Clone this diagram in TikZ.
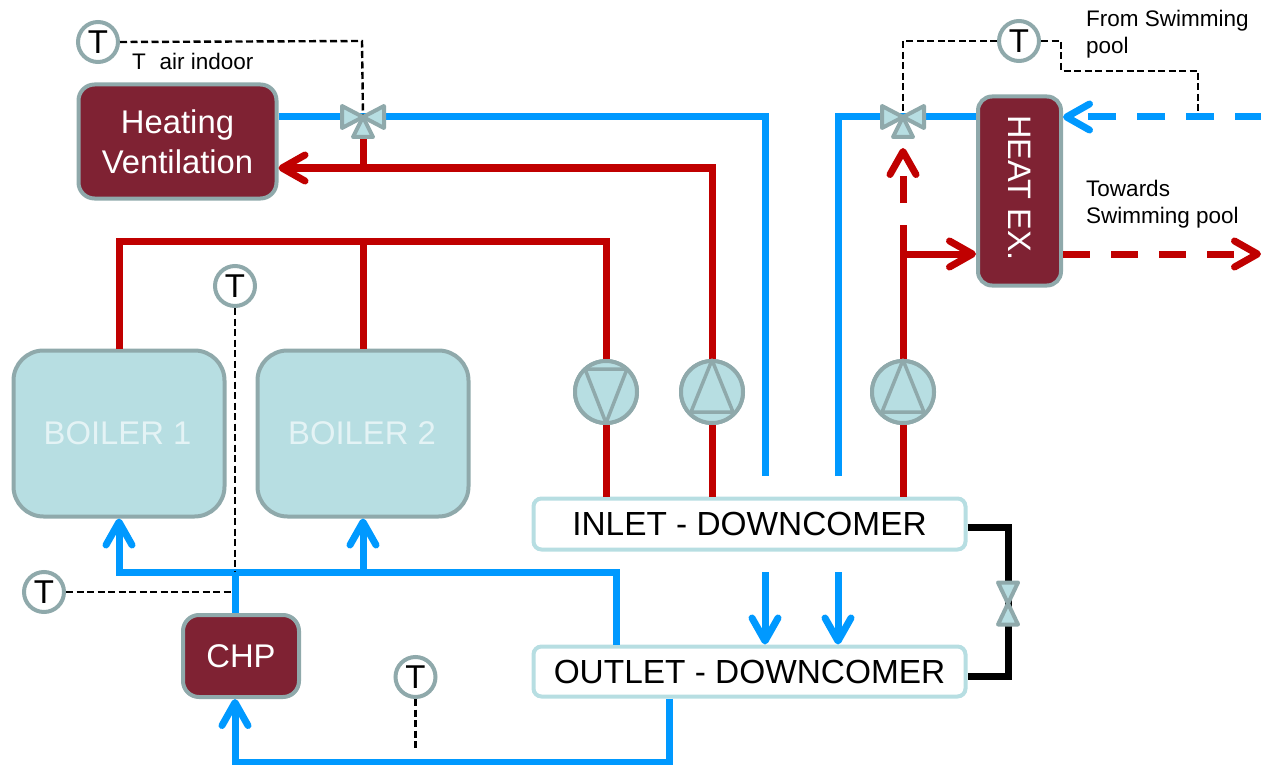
\documentclass[tikz,border=0pt]{standalone}
\usepackage{fontspec}
\setmainfont{Liberation Sans}
\usepackage{xcolor}
\usetikzlibrary{arrows.meta,calc,positioning}
\definecolor{pipeblue}{HTML}{0099FF}
\definecolor{pipered}{HTML}{C00000}
\definecolor{unitred}{HTML}{7F2233}
\definecolor{edgegrey}{HTML}{8FA9AB}
\definecolor{paleteal}{HTML}{B7DEE2}
\definecolor{boilertext}{HTML}{E4F3F5}

\begin{document}
\begin{tikzpicture}[
	  x=1pt,y=-1pt,
	  every node/.style={align=center,inner sep=0pt},
	  unit/.style={draw=edgegrey,line width=4pt,fill=unitred,rounded corners=16pt,text=white,font=\fontsize{32.8}{40}\selectfont},
	  boiler/.style={draw=edgegrey,line width=4pt,fill=paleteal,rounded corners=30pt,minimum width=211pt,minimum height=166pt,text=boilertext,font=\fontsize{32.8}{40}\selectfont},
	  downcomer/.style={draw=paleteal,line width=4pt,fill=white,rounded corners=8pt,minimum width=432pt,text=black,font=\fontsize{33.4}{40}\selectfont},
	  sensor/.style={circle,draw=edgegrey,line width=4pt,fill=white,minimum size=40pt,font=\fontsize{33}{36}\selectfont},
	  pump/.style={circle,draw=edgegrey,line width=4pt,fill=paleteal,minimum size=62pt},
	  note/.style={text=black,align=left,font=\fontsize{22.5}{27}\selectfont},
	  blueline/.style={draw=pipeblue,line width=7pt},
	  redline/.style={draw=pipered,line width=7pt},
	  blackline/.style={draw=black,line width=7pt},
	  signal/.style={draw=black,line width=2.4pt,dash pattern=on 7pt off 3.5pt},
	  to/.style={-{Straight Barb[length=23pt,width=26pt,round]}},
	  valveline/.style={draw=edgegrey,line width=4pt,fill=paleteal,line join=round},
	  threeway/.pic={
	    \draw[valveline] (0,0) -- (-21,-11) -- (-21,11) -- cycle;
	    \draw[valveline] (0,0) -- (21,-11) -- (21,11) -- cycle;
	    \draw[valveline] (0,0) -- (-10,20) -- (10,20) -- cycle;
	  },
	  twoway/.pic={
	    \draw[valveline] (0,0) -- (-10,-21) -- (10,-21) -- cycle;
	    \draw[valveline] (0,0) -- (-10,21) -- (10,21) -- cycle;
	  },
	  pumpup/.pic={\draw[draw=edgegrey,line width=3.5pt,line join=round] (0,-32) -- (-21,20) -- (21,20) -- cycle;},
	  pumpdown/.pic={\draw[draw=edgegrey,line width=3.5pt,line join=round] (0,31) -- (-21,-23) -- (21,-23) -- cycle;}]

	  \useasboundingbox (0,0) rectangle (1261,765);

	  % units
	  \node[unit,minimum width=198pt,minimum height=114pt] (heating) at (177.5,141.5) {Heating\\Ventilation};
	  \node[unit,minimum width=83pt,minimum height=189pt,rounded corners=14pt] (heatex) at (1019.5,191) {};
	  \node[text=white,rotate=-90,font=\fontsize{32.5}{40}\selectfont] (heatexlabel) at (1019.5,188) {HEAT EX.};
	  \node[boiler] (boilera) at (119,433.5) {\hspace*{-3pt}BOILER 1};
	  \node[boiler] (boilerb) at (363,433.5) {\hspace*{-2pt}BOILER 2};
	  \node[unit,minimum width=116pt,minimum height=82pt] (chp) at (241,656) {CHP};
	  \node[downcomer,minimum height=51pt] (inlet) at (749.5,524) {INLET - DOWNCOMER};
	  \node[downcomer,minimum height=50pt] (outlet) at (749.5,671.5) {OUTLET - DOWNCOMER};

	  % pumps and valves
	  \node[pump] (pumpa) at (606,392) {};
	  \node[pump] (pumpb) at (712,392) {};
	  \node[pump] (pumpc) at (903,392) {};
	  \coordinate (valvea) at (363,117);
	  \coordinate (valveb) at (903,117);
	  \coordinate (valvec) at (1008,603.5);

	  % sensors
	  \node[sensor] (sensora) at (98,42) {T};
	  \node[sensor] (sensorb) at (1019,41) {T};
	  \node[sensor] (sensorc) at (235,286) {T};
	  \node[sensor] (sensord) at (44,592) {T};
	  \node[sensor] (sensore) at (415.5,677) {T};

	  % texts
	  \node[note,anchor=west] (airnote) at (132,61) {T\,\, air indoor};
	  \node[note,anchor=west] (fromnote) at (1086,34) {From Swimming\\pool};
	  \node[note,anchor=west] (towardsnote) at (1086,204) {Towards\\Swimming pool};

	  % free pipe ends
	  \coordinate (bluedownl) at (765,476);
	  \coordinate (bluedownr) at (838,476);
	  \coordinate (poolin) at (1261,117);
	  \coordinate (poolout) at (1261,254);
	  \coordinate (splitc) at (903,254);
	  \coordinate (redtop) at (903,225);
	  \coordinate (reddash) at (903,203);
	  \coordinate (valvebbase) at (903,148);
	  \coordinate (lowerl) at (765,572);
	  \coordinate (lowerr) at (838,572);
	  \coordinate (chpsplit) at (235,572);
	  \coordinate (signalend) at (415.5,750);
	  \coordinate (poolsignal) at (1198,115);

	  % blue pipes
	  \draw[blueline] (heating.east |- valvea) -- (valvea) -- (765,117) -- (bluedownl);
	  \draw[blueline] (bluedownr) -- (838,117) -- (valveb) -- (heatex.west |- valveb);
	  \draw[blueline,to,dash pattern=on 26pt off 21pt on 28pt off 21pt on 28pt off 21pt on 28pt off 21pt on 28pt off 40pt] (poolin) -- (heatex.east |- poolin);
	  \draw[blueline,to] (lowerl) -- (outlet.north -| lowerl);
	  \draw[blueline,to] (lowerr) -- (outlet.north -| lowerr);
	  \draw[blueline,to] (outlet.north -| 616,0) -- (616,572) -- (119,572) -- (boilera.south);
	  \draw[blueline,to] (363,572) -- (boilerb.south);
	  \draw[blueline] (chpsplit) -- (chp.north -| chpsplit);
	  \draw[blueline,to] (outlet.south -| 669,0) -- (669,762) -- (235,762) -- (chp.south -| 235,0);

	  % red pipes
	  \draw[redline,to] (inlet.north -| pumpb) -- (pumpb) -- (712,168) -- (heating.east |- 0,168);
	  \draw[redline] (363,168) -- (valvea);
	  \draw[redline] (boilera.north) -- (119,241) -- (606,241) -- (pumpa) -- (inlet.north -| pumpa);
	  \draw[redline] (boilerb.north) -- (363,241);
	  \draw[redline] (inlet.north -| pumpc) -- (pumpc) -- (redtop);
	  \draw[redline,to] (splitc) -- (heatex.west |- splitc);
	  \draw[redline,to,dash pattern=on 27pt off 40pt] (reddash) -- (valvebbase);
	  \draw[redline,to,dash pattern=on 27pt off 21pt] (heatex.east |- poolout) -- (poolout);

	  % bypass
	  \draw[blackline] (inlet.east |- 0,527) -- (1008,527) -- (valvec) -- (1008,676) -- (outlet.east |- 0,676);

	  % signals
	  \draw[signal] (sensora.east) -- (362,41) -- (valvea);
	  \draw[signal] (sensorb.west) -- (valveb |- sensorb) -- (valveb);
	  \draw[signal] (sensorb.east) -- (1061,41) -- (1061,71) -- (1198,71) -- (poolsignal);
	  \draw[signal] (sensorc.south) -- (chpsplit);
	  \draw[signal] (sensord.east) -- (232,592);
	  \draw[signal] (sensore.south) -- (signalend);

	  % pump and valve symbols on top of the pipes
	  \node[pump] at (pumpa) {};
	  \node[pump] at (pumpb) {};
	  \node[pump] at (pumpc) {};
	  \pic at (pumpa) {pumpdown};
	  \pic at (pumpb) {pumpup};
	  \pic at (pumpc) {pumpup};
	  \pic at (valvea) {threeway};
	  \pic at (valveb) {threeway};
	  \pic at (valvec) {twoway};

\end{tikzpicture}
\end{document}
